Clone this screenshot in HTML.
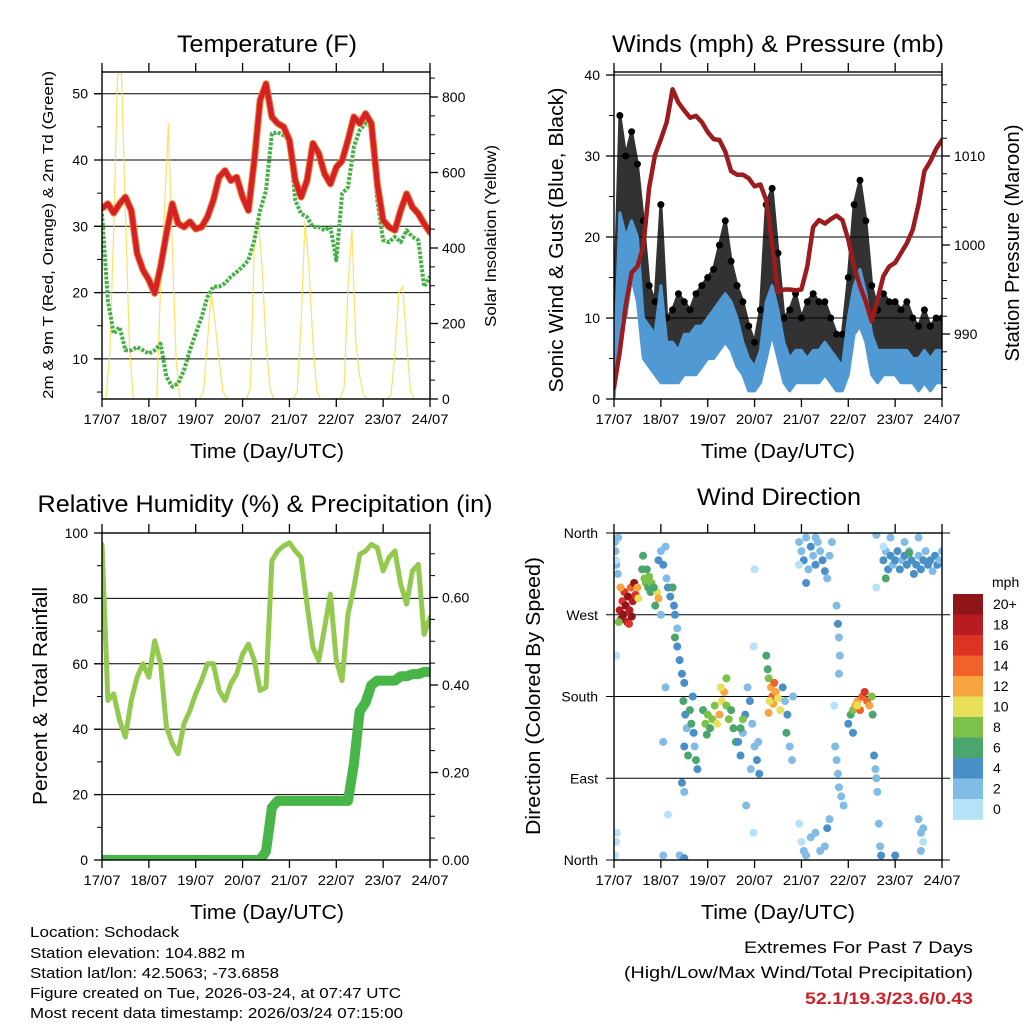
<!DOCTYPE html>
<html><head><meta charset="utf-8"><style>
html,body{margin:0;padding:0;background:#fff}
svg{display:block;font-family:"Liberation Sans",Arial,sans-serif}
</style></head><body>
<svg id="c" width="1024" height="1024" viewBox="0 0 1024 1024" xmlns="http://www.w3.org/2000/svg">
<text x="267" y="52" font-size="24" text-anchor="middle" textLength="180" lengthAdjust="spacingAndGlyphs">Temperature (F)</text>
<text x="778" y="52" font-size="24" text-anchor="middle" textLength="332" lengthAdjust="spacingAndGlyphs">Winds (mph) &amp; Pressure (mb)</text>
<text x="265" y="512" font-size="24" text-anchor="middle" textLength="455" lengthAdjust="spacingAndGlyphs">Relative Humidity (%) &amp; Precipitation (in)</text>
<text x="779" y="505" font-size="24" text-anchor="middle" textLength="164" lengthAdjust="spacingAndGlyphs">Wind Direction</text>
<text x="267" y="458" font-size="20" text-anchor="middle" textLength="154" lengthAdjust="spacingAndGlyphs">Time (Day/UTC)</text>
<text x="778" y="458" font-size="20" text-anchor="middle" textLength="154" lengthAdjust="spacingAndGlyphs">Time (Day/UTC)</text>
<text x="267" y="919" font-size="20" text-anchor="middle" textLength="154" lengthAdjust="spacingAndGlyphs">Time (Day/UTC)</text>
<text x="778" y="919" font-size="20" text-anchor="middle" textLength="154" lengthAdjust="spacingAndGlyphs">Time (Day/UTC)</text>
<text transform="translate(53,235) rotate(-90)" font-size="15" text-anchor="middle" textLength="328" lengthAdjust="spacingAndGlyphs">2m &amp; 9m T (Red, Orange) &amp; 2m Td (Green)</text>
<text transform="translate(496,236) rotate(-90)" font-size="16" text-anchor="middle" textLength="182" lengthAdjust="spacingAndGlyphs">Solar Insolation (Yellow)</text>
<text transform="translate(563,240) rotate(-90)" font-size="20" text-anchor="middle" textLength="305" lengthAdjust="spacingAndGlyphs">Sonic Wind &amp; Gust (Blue, Black)</text>
<text transform="translate(1019,243) rotate(-90)" font-size="20" text-anchor="middle" textLength="237" lengthAdjust="spacingAndGlyphs">Station Pressure (Maroon)</text>
<text transform="translate(47,696) rotate(-90)" font-size="20" text-anchor="middle" textLength="218" lengthAdjust="spacingAndGlyphs">Percent &amp; Total Rainfall</text>
<text transform="translate(540,696) rotate(-90)" font-size="20" text-anchor="middle" textLength="278" lengthAdjust="spacingAndGlyphs">Direction (Colored By Speed)</text>
<g font-size="15">
<text x="30" y="937" textLength="149" lengthAdjust="spacingAndGlyphs">Location: Schodack</text>
<text x="30" y="958" textLength="215" lengthAdjust="spacingAndGlyphs">Station elevation: 104.882 m</text>
<text x="30" y="978" textLength="249" lengthAdjust="spacingAndGlyphs">Station lat/lon: 42.5063; -73.6858</text>
<text x="30" y="998" textLength="371" lengthAdjust="spacingAndGlyphs">Figure created on Tue, 2026-03-24, at 07:47 UTC</text>
<text x="30" y="1018" textLength="373" lengthAdjust="spacingAndGlyphs">Most recent data timestamp: 2026/03/24 07:15:00</text>
</g>
<text x="973" y="953" font-size="17" text-anchor="end" textLength="229" lengthAdjust="spacingAndGlyphs">Extremes For Past 7 Days</text>
<text x="973" y="978" font-size="17" text-anchor="end" textLength="349" lengthAdjust="spacingAndGlyphs">(High/Low/Max Wind/Total Precipitation)</text>
<text x="973" y="1004" font-size="17" font-weight="bold" fill="#cc2229" text-anchor="end" textLength="168" lengthAdjust="spacingAndGlyphs">52.1/19.3/23.6/0.43</text>
<text x="992" y="587" font-size="14">mph</text>
</svg>
<script>
// ---------- DATA (3-hour samples, day 0 = 17/07) ----------
const dayLabels = ["17/07","18/07","19/07","20/07","21/07","22/07","23/07","24/07"];
const tempF = [32.7,33.4,32,33.4,34.4,32.4,25.9,23.4,21.9,19.9,23.9,28.9,33.4,30.4,29.9,30.7,29.6,29.9,31.4,33.9,37.4,38.4,36.9,37.4,34.4,32.4,39.9,49,51.5,46.5,45.5,45,43,36.9,34.4,36.9,42.5,41,37.9,36.4,38.9,39.9,43,46.5,45.5,47,45.5,36.4,30.9,29.9,29.4,32.4,34.9,32.9,31.9,30.4,29.1];
const dewF = [31.9,18.8,13.8,14.8,11.3,11.3,11.8,11.3,10.8,11.3,12.3,7.3,5.8,6.3,8.3,11.3,13.8,16.3,19.3,20.9,20.9,21.4,22.4,23.1,23.9,24.9,27.9,32.4,35.4,44,44.2,43.7,43,33.9,31.9,31.4,29.9,29.9,29.4,29.9,24.9,34.9,35.9,42,44.5,45.5,45,33.9,27.9,27.6,28.4,27.6,29.4,28.4,27.9,20.9,22.4];
// solar insolation, 2-hour samples
const solar = [0,0,120,450,860,860,500,150,0,0,0,0, 0,0,0,300,500,730,400,100,0,0,0,0, 0,0,20,150,280,200,100,20,0,0,0,0, 0,0,30,400,480,350,150,30,0,0,0,0, 0,0,20,200,470,350,150,20,0,0,0,0, 0,0,30,300,450,150,60,10,0,0,0,0, 0,0,10,120,280,300,150,20,0,0,0,0, 0];
const windLow = [0,10,10,15,12,5,4,3,2,2,2,2,3,3,3,4,5,5,6,7,6,4,3,1,1,2,5,8,5,2,1,2,2,2,2,2,3,2,1,1,3,8,9,7,3,2,3,3,3,2,2,2,1,2,1,2,2];
const windHigh = [3,23,20,22,20,10,9,8,14,7,7,6,8,8,9,9,10,11,12,13,12,10,7,5,4,6,12,14,11,7,5,6,6,5,6,6,7,6,5,4,10,14,16,13,8,6,6,6,6,6,6,5,5,6,5,6,6];
const gustLow = [5,15,18,20,18,12,8,6,6,6,5,6,5,6,6,8,9,10,11,12,10,8,6,4,3,5,10,13,9,5,5,5,4,4,6,5,5,4,3,3,8,12,14,12,8,6,6,6,5,6,5,4,3,5,4,4,5];
const gustHigh = [9,35,30,33,29,22,14,12,24,10,11,13,12,11,13,14,15,16,19,22,17,14,12,9,7,11,24,26,18,10,11,13,10,12,13,12,12,10,8,8,15,24,27,22,14,11,13,12,12,11,12,10,9,11,9,10,10];
const pressure = [984,988.1,993.2,996.9,997.6,999.8,1006.4,1010.1,1011.9,1013.8,1017.5,1016,1015.1,1014.3,1014.5,1013.8,1012.7,1011.9,1011.8,1010.5,1008.3,1007.9,1007.9,1007.5,1006.6,1006.8,1005,1000.2,994.7,995,995,994.9,995,997.6,1002,1002.8,1002.4,1002.9,1003.3,1002.8,1000.6,997.6,995.4,993.6,991.4,993.9,996.5,997.6,998,999.1,1000.2,1001.7,1004.6,1008.3,1009.4,1010.8,1011.8];
const rh = [96.5,48.8,50.8,42.7,37.6,48.8,55.9,60,55.9,67,60,40.7,35.6,32.5,41.7,45.7,50.8,54.9,60,60,51.8,48.8,53.9,56.9,63,66,61,51.8,52.8,91.5,94.5,96,97,94.5,92.5,78.3,65,61,71,81.3,61,54.9,75.2,83.3,93.5,94.5,96.5,95.5,88.4,92.5,94.5,84.3,78.3,88.4,90.4,69,74.2];
const precip = [0,0,0,0,0,0,0,0,0,0,0,0,0,0,0,0,0,0,0,0,0,0,0,0,0,0,0,0,0.02,0.12,0.135,0.135,0.135,0.135,0.135,0.135,0.135,0.135,0.135,0.135,0.135,0.135,0.135,0.22,0.34,0.36,0.40,0.41,0.41,0.41,0.41,0.42,0.42,0.425,0.425,0.43,0.43];
// wind direction scatter
const wdDay = [0.02,0.03,0.05,0.04,0.08,0.05,0.06,0.05,0.02,0.09,
0.12,0.15,0.18,0.2,0.22,0.25,0.28,0.3,0.33,0.36,0.38,0.4,0.43,0.46,0.5,0.52,0.14,0.32,0.1,
0.6,0.62,0.65,0.68,0.7,0.73,0.75,0.78,0.8,0.92,0.95,0.88,0.85,
0.95,1.0,1.05,1.1,1.12,1.15,1.2,1.25,1.28,1.3,1.35,1.3,1.35,1.4,1.45,1.5,1.48,1.52,1.55,1.5,1.58,1.1,1.05,1.45,1.5,1.4,1.5,1.05,1.15,1.0,
1.62,1.65,1.7,1.72,1.75,1.78,1.68,
1.9,1.95,2.0,2.05,2.1,2.15,2.2,2.25,2.3,2.35,2.4,2.45,2.5,2.55,2.6,2.28,2.4,1.98,
2.65,2.7,2.75,2.8,2.85,2.9,2.95,3.0,3.05,3.1,3.08,2.92,2.82,2.98,3.0,2.98,2.7,2.75,
3.25,3.28,3.3,3.35,3.38,3.4,3.45,3.5,3.55,3.32,3.42,3.3,
3.6,3.65,3.7,3.68,3.75,3.8,3.82,
3.95,4.0,4.05,4.1,4.15,4.2,4.25,4.3,4.35,4.4,4.45,4.5,4.55,4.6,4.65,4.3,4.1,3.95,
3.95,4.0,4.05,4.1,4.2,4.3,4.4,4.5,4.55,4.6,
4.75,4.78,4.8,4.82,4.8,4.72,4.75,4.78,4.8,4.85,4.9,4.7,
5.0,5.05,5.1,5.15,5.2,5.25,5.3,5.35,5.4,5.45,5.5,5.52,5.1,5.2,
5.55,5.58,5.6,5.62,5.65,5.68,5.7,5.6,5.6,
5.75,5.8,5.85,5.9,5.95,6.0,6.05,6.1,6.15,6.2,6.25,6.3,6.35,6.4,6.45,6.5,6.55,6.6,6.65,6.7,6.75,6.8,6.85,6.9,6.95,7.0,5.9,6.2,6.5,5.75,5.8,6.3,
6.5,6.55,6.6,6.55,6.6,6.0];
const wdDir = [350,340,325,330,315,225,30,20,5,355,
275,265,285,270,295,280,262,290,275,300,268,285,305,292,300,288,300,260,262,
320,335,310,305,320,300,312,295,305,295,288,280,300,
330,340,325,345,310,300,290,300,280,270,255,245,235,220,205,195,175,160,145,125,115,190,130,85,75,5,2,5,50,270,
165,150,140,125,110,100,180,
165,150,160,145,155,170,150,160,175,185,170,155,165,145,130,190,200,138,
130,115,140,160,190,175,150,125,110,95,130,100,60,30,320,235,145,155,
225,210,200,190,180,172,185,178,165,175,195,162,
190,175,160,140,125,110,180,
350,340,330,355,320,345,335,325,350,340,330,318,310,335,350,355,305,325,
40,20,10,5,25,30,10,15,35,45,
280,260,245,225,205,125,110,95,80,70,60,170,
150,160,165,170,175,165,180,185,175,170,180,160,140,170,
115,100,90,75,40,15,5,358,300,
330,340,320,335,325,330,340,320,330,335,325,340,330,315,325,335,320,330,340,325,330,318,335,325,330,340,355,350,355,345,310,338,
45,30,20,10,35,5];
const wdSpd = [2,3,2,1,3,1,1,1,1,3,
18,20,16,22,17,20,18,21,19,14,20,18,22,16,12,10,12,16,8,
6,7,8,9,6,7,8,6,9,11,13,6,7,
4,3,4,2,3,4,5,6,5,4,3,6,5,4,4,5,6,4,3,5,6,2,2,4,3,2,4,2,1,2,
7,6,4,3,6,5,4,
7,8,9,7,8,8,11,12,10,12,9,8,6,7,6,10,9,6,
4,4,3,4,3,4,2,3,4,4,2,3,2,1,1,1,7,8,
6,7,8,12,14,13,12,10,11,10,14,12,
4,3,4,6,3,2,3,
2,3,4,2,3,4,3,4,2,3,5,4,3,2,3,3,4,1,
1,1,2,2,2,2,2,3,4,2,
3,4,3,3,2,3,2,2,2,2,2,1,
4,6,8,12,13,14,15,16,14,12,8,7,5,10,
4,2,3,2,2,2,4,2,1,
4,3,4,4,3,4,5,4,3,4,4,3,5,4,4,3,4,4,3,4,4,3,4,4,3,3,2,2,2,1,6,6,
2,2,1,3,2,4];
const binLabels = ["20+","18","16","14","12","10","8","6","4","2","0"];
const binColors = ["#8e1518","#b81c22","#dc3325","#f0622a","#f7a540","#e8e05a","#7cc24a","#4aa66c","#4a90c8","#80bce6","#b6e2f8"];

// ---------- RENDER ----------
const NS="http://www.w3.org/2000/svg";
const svg=document.getElementById('c');
function mk(tag,parent){const e=document.createElementNS(NS,tag);(parent||svg).appendChild(e);return e;}
const L={x0:102,x1:430}, R={x0:614,x1:942};
const T={y0:72,y1:399}, B={y0:533,y1:860};
function xs(P){return d=>P.x0+d*(P.x1-P.x0)/7;}
const xL=xs(L), xR=xs(R);
const yT=v=>425.2-v*6.63, yS=w=>399-w*0.3775;
const yW=v=>399-v*8.1, yP=p=>245-(p-1000)*8.9;
const yH=v=>860-v*3.27, yRn=r=>860-r*437.5;
const yD=g=>860-g*327/360;
const t3=i=>i*0.125, t2=i=>i/12;

function clip(id,P,Y){const cp=mk('clipPath');cp.setAttribute('id',id);const r=mk('rect',cp);r.setAttribute('x',P.x0);r.setAttribute('y',Y.y0);r.setAttribute('width',P.x1-P.x0);r.setAttribute('height',Y.y1-Y.y0);}
clip('cT',L,T);clip('cW',R,T);clip('cH',L,B);clip('cD',R,B);

function hline(x0,x1,y,col,w,name){const l=mk('line');l.setAttribute('x1',x0);l.setAttribute('x2',x1);l.setAttribute('y1',y);l.setAttribute('y2',y);l.setAttribute('stroke',col);l.setAttribute('stroke-width',w);

return l;}
function vline(x,y0,y1,name){const l=mk('line');l.setAttribute('x1',x);l.setAttribute('x2',x);l.setAttribute('y1',y0);l.setAttribute('y2',y1);l.setAttribute('stroke','#000');l.setAttribute('stroke-width',1.3);

}
function txt(x,y,s,anchor,size,name){const t=mk('text');t.setAttribute('x',x);t.setAttribute('y',y);t.setAttribute('font-size',size);t.setAttribute('text-anchor',anchor);t.textContent=s;

return t;}

function frame(P,Y,key){
  const r=mk('rect');r.setAttribute('x',P.x0);r.setAttribute('y',Y.y0);r.setAttribute('width',P.x1-P.x0);r.setAttribute('height',Y.y1-Y.y0);r.setAttribute('fill','none');r.setAttribute('stroke','#000');r.setAttribute('stroke-width',1.4);
  
  
  const X=xs(P);
  dayLabels.forEach((lab,i)=>{const x=X(i);vline(x,Y.y0-9,Y.y0,key+'-top-tick');vline(x,Y.y1,Y.y1+8,key+'-bottom-tick');
    const t=txt(x,Y.y1+25,lab,'middle',14,key+'-x-tick-label');t.setAttribute('textLength','37');t.setAttribute('lengthAdjust','spacingAndGlyphs');});
}
function leftAxis(P,Y,vals,fy,fmt,minor,key,gridVals){
  gridVals.forEach(v=>hline(P.x0-8,P.x1,fy(v),'#000',1,key+'-gridline'));
  vals.forEach(v=>{hline(P.x0-8,P.x0,fy(v),'#000',1.3,key+'-left-tick');txt(P.x0-14,fy(v)+5,fmt(v),'end',14,key+'-left-tick-label');});
  minor.forEach(v=>hline(P.x0-5,P.x0,fy(v),'#000',1,key+'-left-minor-tick'));
}
function rightAxis(P,vals,fy,fmt,minor,key){
  vals.forEach(v=>{hline(P.x1,P.x1+8,fy(v),'#000',1.3,key+'-right-tick');txt(P.x1+12,fy(v)+5,fmt(v),'start',14,key+'-right-tick-label');});
  minor.forEach(v=>hline(P.x1,P.x1+5,fy(v),'#000',1,key+'-right-minor-tick'));
}
function path(pts,clipId,col,w,name,extra){const p=mk('path');p.setAttribute('d','M'+pts.map(q=>q[0].toFixed(1)+','+q[1].toFixed(1)).join('L'));p.setAttribute('fill','none');p.setAttribute('stroke',col);p.setAttribute('stroke-width',w);p.setAttribute('stroke-linejoin','round');p.setAttribute('stroke-linecap','round');p.setAttribute('clip-path','url(#'+clipId+')');
  
  
  if(extra)for(const k in extra)p.setAttribute(k,extra[k]);return p;}
function band(lo,hi,X,fy,clipId,col,name,op){const up=hi.map((v,i)=>[X(t3(i)),fy(v)]);const dn=lo.map((v,i)=>[X(t3(i)),fy(v)]).reverse();
  const p=mk('path');p.setAttribute('d','M'+up.concat(dn).map(q=>q[0].toFixed(1)+','+q[1].toFixed(1)).join('L')+'Z');p.setAttribute('fill',col);p.setAttribute('stroke',col);p.setAttribute('stroke-width',3);p.setAttribute('stroke-linejoin','round');p.setAttribute('clip-path','url(#'+clipId+')');p.setAttribute('opacity',op);
  
  }
const range=(a,b,s)=>{const o=[];for(let v=a;v<=b+1e-9;v+=s)o.push(+v.toFixed(4));return o;};

// Panel 1: temperature
leftAxis(L,T,[10,20,30,40,50],yT,v=>v,range(5,45,10),'temp',[10,20,30,40,50]);
rightAxis(L,[0,200,400,600,800],yS,v=>v,range(50,850,50),'solar');
path(solar.map((w,i)=>[xL(t2(i)),yS(w)]),'cT','#f9dc4c',1.2,'solar-line',{opacity:'0.85'});
path(dewF.map((v,i)=>[xL(t3(i)),yT(v)]),'cT','#45b043',4,'dewpoint-line',{'stroke-dasharray':'3 1.5','stroke-linecap':'butt'});
path(tempF.map((v,i)=>[xL(t3(i)),yT(v)]),'cT','#f0792a',7,'temp-9m-line');
path(tempF.map((v,i)=>[xL(t3(i)),yT(v)]),'cT','#d42127',5,'temp-2m-line');
frame(L,T,'temp');

// Panel 2: winds & pressure
hline(R.x0,R.x1,75,'#000',1,'wind-gridline-40');
leftAxis(R,T,[0,10,20,30,40],yW,v=>v,range(5,35,10),'wind',[10,20,30]);
rightAxis(R,[990,1000,1010],yP,v=>v,range(984,1018,2),'pressure');
band(gustLow,gustHigh,xR,yW,'cW','#000','gust-band','0.8');
gustHigh.forEach((v,i)=>{const c=mk('circle');c.setAttribute('cx',xR(t3(i)));c.setAttribute('cy',yW(v));c.setAttribute('r',3.5);c.setAttribute('fill','#000');c.setAttribute('clip-path','url(#cW)');
  
  });
band(windLow,windHigh,xR,yW,'cW','#5099d3','wind-band','1');
path(pressure.map((p,i)=>[xR(t3(i)),yP(p)]),'cW','#9b1b1e',4.5,'pressure-line');
frame(R,T,'wind');

// Panel 3: RH & precip
leftAxis(L,B,[0,20,40,60,80,100],yH,v=>v,range(10,90,20),'rh',[20,40,60,80]);
rightAxis(L,[0,0.2,0.4,0.6],yRn,v=>v.toFixed(2),range(0.05,0.7,0.05),'precip');
path(rh.map((v,i)=>[xL(t3(i)),yH(v)]),'cH','#92c94e',5,'rh-line');
path(precip.map((r,i)=>[xL(t3(i)),yRn(r)]),'cH','#47b547',10,'precip-line');
frame(L,B,'rh');

// Panel 4: wind direction
const dirTicks=[0,90,180,270,360], dirNames=["North","East","South","West","North"];
dirTicks.forEach((g,i)=>{hline(R.x0-8,R.x1+8,yD(g),'#000',1.1,'dir-gridline');txt(R.x0-16,yD(g)+5,dirNames[i],'end',14,'dir-tick-label');});
wdDay.forEach((d,i)=>{const b=Math.min(10,Math.floor(wdSpd[i]/2));const c=mk('circle');c.setAttribute('cx',xR(d));c.setAttribute('cy',yD(wdDir[i]));c.setAttribute('r',4);c.setAttribute('fill',binColors[10-b]);c.setAttribute('clip-path','url(#cD)');
  
  });
frame(R,B,'dir');
binLabels.forEach((lab,i)=>{const y=594+i*20.5;const r=mk('rect');r.setAttribute('x',953);r.setAttribute('y',y);r.setAttribute('width',30);r.setAttribute('height',20.8);r.setAttribute('fill',binColors[i]);
  
  
  txt(993,y+15,lab,'start',14,'colorbar-label');});
</script>
</body></html>
